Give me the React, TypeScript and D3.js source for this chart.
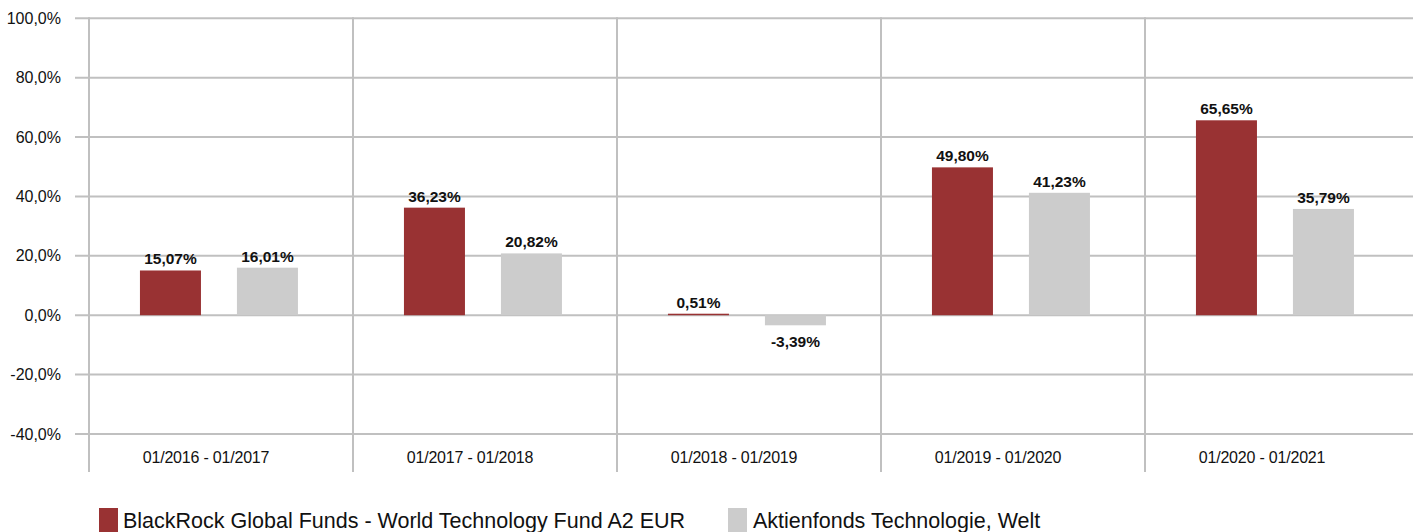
import React from "react";
import * as d3 from "d3";

const categories = ["01/2016 - 01/2017", "01/2017 - 01/2018", "01/2018 - 01/2019", "01/2019 - 01/2020", "01/2020 - 01/2021"];
const fundValues = [15.07, 36.23, 0.51, 49.8, 65.65];
const peerValues = [16.01, 20.82, -3.39, 41.23, 35.79];
const seriesNames = ["BlackRock Global Funds - World Technology Fund A2 EUR", "Aktienfonds Technologie, Welt"];
const yTicks = [100, 80, 60, 40, 20, 0, -20, -40];

const W = 1413, H = 532;
const left = 89, right = 1409, top = 18.3, bottom = 434;
const FONT = "'Liberation Sans', Arial, sans-serif";
const RED = "#993233", GREY = "#cccccc", GRID = "#c0c0c0";

const fmt = (v: number, d: number) => v.toFixed(d).replace(".", ",");

export default function App() {
  const x = d3.scaleBand<string>().domain(categories).range([left, right]);
  const y = d3.scaleLinear().domain([-40, 100]).range([bottom, top]);
  const bw = x.bandwidth();
  const inner = d3.scaleBand<string>().domain(["a", "b"]).range([bw * 0.193, bw * 0.7915]).paddingInner(0.371);
  const series = [
    { key: "a", values: fundValues, color: RED },
    { key: "b", values: peerValues, color: GREY },
  ];
  return (
    <svg width={W} height={H} style={{ position: "absolute", left: 0, top: 0, background: "#fff" }}>
      {yTicks.map((t) => (
        <g key={t}>
          <line x1={75} x2={W} y1={y(t)} y2={y(t)} stroke={GRID} strokeWidth={2} />
          <text x={61} y={y(t) + 5.5} textAnchor="end" fontFamily={FONT} fontSize={16} fill="#111">
            {fmt(t, 1)}%
          </text>
        </g>
      ))}
      {categories.map((c) => (
        <line key={c} x1={x(c)!} x2={x(c)!} y1={top - 1} y2={472} stroke={GRID} strokeWidth={2} />
      ))}
      {categories.map((c) => (
        <text key={"l" + c} x={x(c)! + bw / 2 - 15} y={463} textAnchor="middle" fontFamily={FONT} fontSize={16} fill="#111" letterSpacing={-0.2}>
          {c}
        </text>
      ))}
      {series.map((s) =>
        categories.map((c, i) => {
          const v = s.values[i];
          const bx = x(c)! + inner(s.key)!;
          const w = inner.bandwidth();
          const y0 = y(Math.max(0, v));
          const h = Math.abs(y(v) - y(0));
          return (
            <g key={s.key + c}>
              <rect x={bx} y={y0} width={w} height={Math.max(h, 1.5)} fill={s.color} />
              <text
                x={bx + w / 2}
                y={v >= 0 ? y(v) - 6 : y(v) + 22}
                textAnchor="middle"
                fontFamily={FONT}
                fontWeight="bold"
                fontSize={15.5}
                fill="#111"
              >
                {fmt(v, 2)}%
              </text>
            </g>
          );
        })
      )}
      <rect x={99} y={508} width={19} height={24} fill={RED} />
      <text x={123} y={528} fontFamily={FONT} fontSize={21.5} fill="#111">{seriesNames[0]}</text>
      <rect x={728} y={508} width={19} height={24} fill={GREY} />
      <text x={753} y={528} fontFamily={FONT} fontSize={21.5} fill="#111">{seriesNames[1]}</text>
    </svg>
  );
}
